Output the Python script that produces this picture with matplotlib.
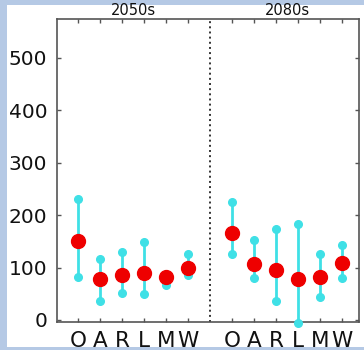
import matplotlib
matplotlib.use("Agg")
import matplotlib.pyplot as plt
from matplotlib.patches import Rectangle

# labels and periods
letters = ["O", "A", "R", "L", "M", "W"]
periods = ["2050s", "2080s"]

# values (median, upper, lower)
mid_2050 = [151, 78, 85, 89, 81, 99]
high_2050 = [231, 116, 130, 148, 84, 126]
low_2050 = [81, 37, 51, 50, 67, 86]

mid_2080 = [165, 106, 95, 78, 81, 108]
high_2080 = [225, 152, 174, 183, 126, 143]
low_2080 = [125, 80, 36, -5, 44, 80]

plt.rcParams['font.family'] = ['DejaVu Sans']

fig = plt.figure(figsize=(3.64, 3.50), dpi=100)
fig.patch.set_facecolor('#b5c9e5')
# white panel inside the blue frame
fig.patches.append(Rectangle((7/364, 3/350), 357/364, 342/350, transform=fig.transFigure,
                             facecolor='white', edgecolor='none', zorder=-5))

ax = fig.add_axes([57/364, 28.5/350, 302/364, 302.5/350])
ax.set_facecolor('white')

x1 = list(range(6))
x2 = [i + 7 for i in range(6)]

for xs, mid, hi, lo in [(x1, mid_2050, high_2050, low_2050),
                        (x2, mid_2080, high_2080, low_2080)]:
    ax.vlines(xs, lo, hi, color='#3fe0e6', lw=2, zorder=2, clip_on=False)
    ax.plot(xs, hi, 'o', color='#3fe0e6', ms=5.5, zorder=3, clip_on=False)
    ax.plot(xs, lo, 'o', color='#3fe0e6', ms=5.5, zorder=3, clip_on=False)
    ax.plot(xs, mid, 'o', color='#ee0000', ms=10, zorder=4, clip_on=False)

ax.axvline(6, color='#333333', ls=':', lw=1.4)

ax.set_xlim(-0.955, 12.77)
ax.set_ylim(-3, 574)
ax.set_yticks([0, 100, 200, 300, 400, 500])
ax.set_xticks(x1 + x2)
ax.set_xticklabels(letters + letters, fontsize=15.5)
ax.tick_params(axis='y', labelsize=14.5, pad=7)
ax.tick_params(axis='x', pad=7)
ax.tick_params(direction='in', length=3, width=1, color='#555555',
               labelcolor='#111111', top=True, right=True)

for s in ax.spines.values():
    s.set_color('#555555')
    s.set_linewidth(1.2)

ax.text(2.5, 576, periods[0], ha='center', va='bottom', fontsize=10.5, color='#111111')
ax.text(9.5, 576, periods[1], ha='center', va='bottom', fontsize=10.5, color='#111111')

fig.savefig("out.png", dpi=100, facecolor=fig.get_facecolor())
